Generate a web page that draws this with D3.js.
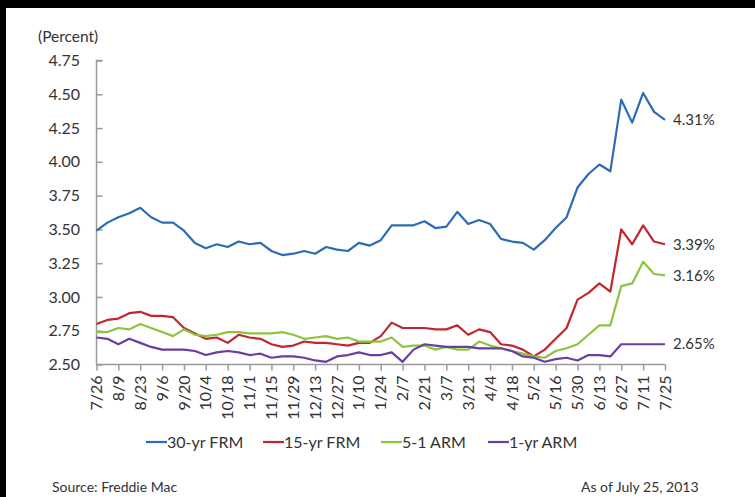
<!DOCTYPE html>
<html><head><meta charset="utf-8">
<script src="https://cdn.jsdelivr.net/npm/d3@7"></script>
<style>
html,body{margin:0;padding:0;background:#fff;}
svg{display:block;}
text{font-family:Lato,"Open Sans",sans-serif;fill:#333;}
</style></head>
<body>
<svg id="c" width="755" height="497"></svg>
<script>
const dates = ["7/26","8/2","8/9","8/16","8/23","8/30","9/6","9/13","9/20","9/27","10/4","10/11","10/18","10/25","11/1","11/8","11/15","11/21","11/29","12/6","12/13","12/20","12/27","1/3","1/10","1/17","1/24","1/31","2/7","2/14","2/21","2/28","3/7","3/14","3/21","3/28","4/4","4/11","4/18","4/25","5/2","5/9","5/16","5/23","5/30","6/6","6/13","6/20","6/27","7/3","7/11","7/18","7/25"];
const frm30 = [3.49,3.55,3.59,3.62,3.66,3.59,3.55,3.55,3.49,3.40,3.36,3.39,3.37,3.41,3.39,3.40,3.34,3.31,3.32,3.34,3.32,3.37,3.35,3.34,3.40,3.38,3.42,3.53,3.53,3.53,3.56,3.51,3.52,3.63,3.54,3.57,3.54,3.43,3.41,3.40,3.35,3.42,3.51,3.59,3.81,3.91,3.98,3.93,4.46,4.29,4.51,4.37,4.31];
const frm15 = [2.80,2.83,2.84,2.88,2.89,2.86,2.86,2.85,2.77,2.73,2.69,2.70,2.66,2.72,2.70,2.69,2.65,2.63,2.64,2.67,2.66,2.66,2.65,2.64,2.66,2.66,2.71,2.81,2.77,2.77,2.77,2.76,2.76,2.79,2.72,2.76,2.74,2.65,2.64,2.61,2.56,2.61,2.69,2.77,2.98,3.03,3.10,3.04,3.50,3.39,3.53,3.41,3.39];
const arm51 = [2.74,2.74,2.77,2.76,2.80,2.77,2.74,2.71,2.76,2.72,2.71,2.72,2.74,2.74,2.73,2.73,2.73,2.74,2.72,2.69,2.70,2.71,2.69,2.70,2.67,2.67,2.67,2.70,2.63,2.64,2.64,2.61,2.63,2.61,2.61,2.67,2.64,2.62,2.60,2.58,2.56,2.55,2.60,2.62,2.65,2.72,2.79,2.79,3.08,3.10,3.26,3.17,3.16];
const arm1 = [2.70,2.69,2.65,2.69,2.66,2.63,2.61,2.61,2.61,2.60,2.57,2.59,2.60,2.59,2.57,2.58,2.55,2.56,2.56,2.55,2.53,2.52,2.56,2.57,2.59,2.57,2.57,2.59,2.52,2.61,2.65,2.64,2.63,2.63,2.63,2.62,2.62,2.62,2.60,2.56,2.55,2.52,2.54,2.55,2.53,2.57,2.57,2.56,2.65,2.65,2.65,2.65,2.65];
const seriesNames = ["30-yr FRM","15-yr FRM","5-1 ARM","1-yr ARM"];
const seriesColors = ["#2C6CB4","#C1272D","#8CC43F","#6A3DA0"];
const endLabels = ["4.31%","3.39%","3.16%","2.65%"];
const yTicks = [2.50,2.75,3.00,3.25,3.50,3.75,4.00,4.25,4.50,4.75];
const xTickLabels = ["7/26","8/9","8/23","9/6","9/20","10/4","10/18","11/1","11/15","11/29","12/13","12/27","1/10","1/24","2/7","2/21","3/7","3/21","4/4","4/18","5/2","5/16","5/30","6/13","6/27","7/11","7/25"];

const allSeries = [frm30, frm15, arm51, arm1];
const svg = d3.select("#c");

// frame
svg.append("rect").attr("x",0).attr("y",0).attr("width",755).attr("height",8).attr("fill","#000");
svg.append("rect").attr("x",0).attr("y",0).attr("width",6).attr("height",497).attr("fill","#000");

const pLeft = 96.5, pRight = 665, pTop = 60.5, pBottom = 364.5;
const x = d3.scalePoint().domain(dates).range([pLeft, pRight]);
const y = d3.scaleLinear().domain([2.5, 4.75]).range([pBottom, pTop]);

// y axis
const yAxis = svg.append("g").attr("transform",`translate(${pLeft},0)`)
  .call(d3.axisRight(y).tickValues(yTicks).tickSize(6).tickFormat(""));
yAxis.select(".domain").attr("d",`M6,${pTop}H0V${pBottom}`);
yAxis.selectAll("line,path").attr("stroke","#9a9a9a").attr("stroke-width",1.5);
svg.append("g").selectAll("text").data(yTicks).join("text")
  .attr("x",80).attr("y",d=>y(d)).attr("dy","0.35em")
  .attr("text-anchor","end").attr("font-size",16).text(d=>d.toFixed(2));

// x axis
const xAxis = svg.append("g").attr("transform",`translate(0,${pBottom})`)
  .call(d3.axisBottom(x).tickValues(xTickLabels).tickSize(6).tickSizeOuter(0).tickFormat(""));
xAxis.select(".domain").attr("d",`M${pLeft},0H${pRight}`);
xAxis.selectAll("line,path").attr("stroke","#9a9a9a").attr("stroke-width",1.5);
svg.append("g").selectAll("text").data(xTickLabels).join("text")
  .attr("transform",d=>`translate(${x(d)},${pBottom+11}) rotate(-90)`)
  .attr("dy","0.35em").attr("text-anchor","end").attr("font-size",16).text(d=>d);

// lines
const line = d3.line().x((d,i)=>x(dates[i])).y(d=>y(d));
allSeries.forEach((s,k)=>{
  svg.append("path").datum(s).attr("d",line).attr("fill","none")
    .attr("stroke",seriesColors[k]).attr("stroke-width",2.2).attr("stroke-linejoin","round");
});
// end labels
allSeries.forEach((s,k)=>{
  svg.append("text").attr("x",pRight+8).attr("y",y(s[s.length-1])).attr("dy","0.35em")
    .attr("font-size",15).text(endLabels[k]);
});

svg.append("text").attr("x",38).attr("y",37).attr("dy","0.35em").attr("font-size",15.5).text("(Percent)");

// legend
const legX = [146, 263, 381, 488];
seriesNames.forEach((n,k)=>{
  svg.append("line").attr("x1",legX[k]).attr("x2",legX[k]+21).attr("y1",442).attr("y2",442)
    .attr("stroke",seriesColors[k]).attr("stroke-width",2.2);
  svg.append("text").attr("x",legX[k]+21).attr("y",442).attr("dy","0.35em").attr("font-size",16).text(n);
});

svg.append("text").attr("x",52).attr("y",492).attr("font-size",14).text("Source: Freddie Mac");
svg.append("text").attr("x",581).attr("y",492).attr("font-size",14).text("As of July 25, 2013");
</script>
</body></html>
